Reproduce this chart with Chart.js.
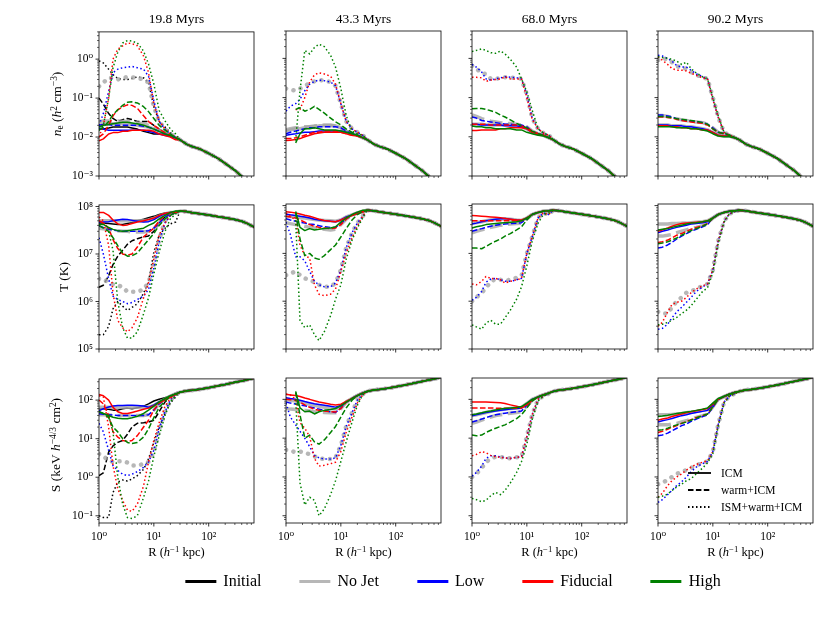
<!DOCTYPE html>
<html>
<head>
<meta charset="utf-8">
<script src="https://cdn.jsdelivr.net/npm/chart.js@4.4.1/dist/chart.umd.min.js"></script>
<style>
  html, body { margin: 0; padding: 0; background: #fff; }
  #fig { position: relative; width: 830px; height: 623px; overflow: hidden;
         font-family: 'Liberation Serif', 'DejaVu Serif', serif; color: #000; }
  #fig canvas { position: absolute; }
  .txt { position: absolute; white-space: nowrap; line-height: 1; }
  .ctr { transform: translate(-50%, -50%); }
  .rot { transform: translate(-50%, -50%) rotate(-90deg); }
  sup { font-size: 70%; line-height: 0; vertical-align: 0.45em; }
  sub { font-size: 70%; line-height: 0; vertical-align: -0.2em; }
  .legend { position: absolute; display: flex; align-items: center; transform: translate(-50%, -50%);
            font-size: 16px; white-space: nowrap; }
  .legend .item { display: flex; align-items: center; margin: 0 19px; }
  .legend .sw { width: 31px; height: 0; border-top: 3px solid; margin-right: 7px; }
  .inner { position: absolute; font-size: 11.5px; }
  .inner .row { display: flex; align-items: center; height: 17px; }
  .inner svg { margin-right: 10px; }
</style>
</head>
<body>
<div id="fig"></div>
<script>
// panel titles, runs and gas phases
const times = ['19.8 Myrs', '43.3 Myrs', '68.0 Myrs', '90.2 Myrs'];
const runs = ['Initial', 'No Jet', 'Low', 'Fiducial', 'High'];
const runKeys = ['black', 'gray', 'blue', 'red', 'green'];
const phases = ['ICM', 'warm+ICM', 'ISM+warm+ICM'];

// radii (h^-1 kpc): inner part read per line, outer part shared by all lines
const rIn = [1, 1.2, 1.5, 1.8, 2.2, 2.7, 3.3, 4, 5, 6.5, 8, 10, 12.5, 16, 20, 25];
const rOut = [30, 40, 50, 70, 100, 150, 200, 300, 400, 500, 700];
const neOut = [0.0085, 0.0065, 0.0057, 0.0049, 0.0038, 0.0028, 0.0021, 0.0014, 0.00098, 0.0007, 0.0004];
const tOut = [8e7, 7.8e7, 7.4e7, 7e7, 6.6e7, 6.1e7, 5.8e7, 5.3e7, 4.9e7, 4.4e7, 3.6e7];
const sOut = [160, 175, 180, 192, 210, 235, 255, 290, 315, 335, 380];

// each run: [ICM, warm+ICM, ISM+warm+ICM]
// ---- n_e
const ne1_black = [
  [0.016, 0.016, 0.017, 0.018, 0.018, 0.018, 0.018, 0.017, 0.016, 0.014, 0.013, 0.012, 0.012, 0.012, 0.011, 0.0095],
  [0.1, 0.07, 0.04, 0.03, 0.025, 0.028, 0.03, 0.028, 0.025, 0.025, 0.025, 0.02, 0.016, 0.013, 0.011, 0.0095],
  [0.9, 0.8, 0.55, 0.4, 0.32, 0.3, 0.3, 0.32, 0.35, 0.33, 0.25, 0.06, 0.025, 0.018, 0.013, 0.01]];
const ne1_gray = [
  [0.02, 0.021, 0.022, 0.022, 0.022, 0.022, 0.022, 0.021, 0.02, 0.019, 0.018, 0.016, 0.014, 0.012, 0.011, 0.0095],
  [0.025, 0.026, 0.026, 0.026, 0.026, 0.025, 0.025, 0.024, 0.023, 0.022, 0.02, 0.017, 0.015, 0.013, 0.011, 0.0095],
  [0.2, 0.25, 0.33, 0.33, 0.3, 0.32, 0.35, 0.34, 0.33, 0.3, 0.25, 0.06, 0.025, 0.016, 0.012, 0.01]];
const ne1_blue = [
  [0.017, 0.016, 0.015, 0.015, 0.015, 0.015, 0.015, 0.015, 0.015, 0.015, 0.014, 0.013, 0.012, 0.011, 0.0105, 0.0095],
  [0.02, 0.021, 0.021, 0.02, 0.02, 0.02, 0.02, 0.02, 0.02, 0.019, 0.018, 0.016, 0.014, 0.012, 0.0105, 0.0095],
  [0.02, 0.04, 0.15, 0.45, 0.55, 0.6, 0.62, 0.65, 0.6, 0.55, 0.36, 0.085, 0.025, 0.016, 0.012, 0.01]];
const ne1_red = [
  [0.008, 0.009, 0.012, 0.013, 0.013, 0.014, 0.014, 0.015, 0.015, 0.015, 0.015, 0.014, 0.012, 0.011, 0.01, 0.0085],
  [0.01, 0.012, 0.02, 0.035, 0.05, 0.06, 0.067, 0.065, 0.055, 0.035, 0.025, 0.02, 0.016, 0.013, 0.011, 0.0095],
  [0.01, 0.02, 0.1, 1.0, 1.8, 2.2, 2.6, 2.5, 2.2, 1.2, 0.45, 0.07, 0.026, 0.016, 0.012, 0.01]];
const ne1_green = [
  [0.018, 0.02, 0.021, 0.022, 0.023, 0.024, 0.024, 0.023, 0.022, 0.02, 0.018, 0.016, 0.014, 0.012, 0.011, 0.0095],
  [0.015, 0.018, 0.025, 0.038, 0.05, 0.065, 0.078, 0.08, 0.075, 0.06, 0.045, 0.03, 0.02, 0.015, 0.012, 0.0095],
  [0.015, 0.02, 0.1, 0.6, 1.5, 2.6, 3.0, 2.9, 2.6, 1.6, 0.75, 0.23, 0.048, 0.026, 0.016, 0.012]];

const ne2_gray = [
  [0.014, 0.015, 0.016, 0.016, 0.017, 0.018, 0.018, 0.019, 0.019, 0.019, 0.019, 0.017, 0.014, 0.012, 0.011, 0.0095],
  [0.015, 0.016, 0.017, 0.017, 0.018, 0.018, 0.019, 0.019, 0.02, 0.02, 0.019, 0.017, 0.014, 0.012, 0.011, 0.0095],
  [0.17, 0.16, 0.15, 0.17, 0.2, 0.23, 0.26, 0.28, 0.27, 0.25, 0.2, 0.07, 0.025, 0.016, 0.013, 0.011]];
const ne2_blue = [
  [0.011, 0.0115, 0.012, 0.0125, 0.013, 0.013, 0.0135, 0.014, 0.014, 0.014, 0.014, 0.014, 0.013, 0.012, 0.011, 0.0095],
  [0.012, 0.013, 0.014, 0.015, 0.016, 0.017, 0.017, 0.018, 0.018, 0.018, 0.018, 0.017, 0.014, 0.012, 0.011, 0.0095],
  [0.045, 0.06, 0.07, 0.09, 0.15, 0.22, 0.26, 0.28, 0.27, 0.25, 0.2, 0.07, 0.025, 0.016, 0.013, 0.011]];
const ne2_red = [
  [0.008, 0.0082, 0.0085, 0.009, 0.01, 0.011, 0.012, 0.0125, 0.013, 0.013, 0.013, 0.013, 0.012, 0.011, 0.0105, 0.0095],
  [0.009, 0.009, 0.0095, 0.01, 0.011, 0.012, 0.013, 0.013, 0.014, 0.014, 0.014, 0.013, 0.012, 0.011, 0.0105, 0.0095],
  [null, null, 0.05, 0.05, 0.1, 0.25, 0.38, 0.43, 0.4, 0.35, 0.22, 0.07, 0.025, 0.016, 0.013, 0.011]];
const ne2_green = [
  [null, null, 0.007, 0.012, 0.016, 0.016, 0.017, 0.016, 0.015, 0.015, 0.015, 0.014, 0.013, 0.012, 0.011, 0.0095],
  [null, null, 0.05, 0.055, 0.045, 0.05, 0.06, 0.05, 0.04, 0.03, 0.024, 0.02, 0.016, 0.013, 0.011, 0.0095],
  [null, null, 0.008, 0.15, 1.6, 1.3, 1.9, 2.3, 2.0, 1.2, 0.6, 0.17, 0.035, 0.014, 0.012, 0.011]];

const ne3_gray = [
  [0.021, 0.021, 0.021, 0.02, 0.02, 0.02, 0.02, 0.02, 0.02, 0.019, 0.018, 0.016, 0.013, 0.012, 0.011, 0.0095],
  [0.036, 0.033, 0.029, 0.027, 0.025, 0.024, 0.023, 0.022, 0.022, 0.021, 0.02, 0.018, 0.014, 0.012, 0.011, 0.0095],
  [0.65, 0.55, 0.42, 0.4, 0.3, 0.3, 0.32, 0.33, 0.32, 0.32, 0.3, 0.12, 0.03, 0.016, 0.0125, 0.011]];
const ne3_blue = [
  [0.021, 0.021, 0.02, 0.02, 0.02, 0.02, 0.02, 0.019, 0.019, 0.019, 0.018, 0.016, 0.013, 0.012, 0.011, 0.0095],
  [0.032, 0.03, 0.026, 0.025, 0.024, 0.023, 0.022, 0.021, 0.021, 0.02, 0.02, 0.018, 0.014, 0.012, 0.011, 0.0095],
  [0.7, 0.6, 0.45, 0.3, 0.28, 0.3, 0.32, 0.34, 0.33, 0.32, 0.3, 0.12, 0.03, 0.016, 0.0125, 0.011]];
const ne3_red = [
  [0.0145, 0.0145, 0.015, 0.015, 0.015, 0.015, 0.016, 0.016, 0.017, 0.017, 0.017, 0.016, 0.013, 0.012, 0.011, 0.0095],
  [0.021, 0.021, 0.021, 0.021, 0.02, 0.02, 0.02, 0.02, 0.02, 0.02, 0.019, 0.017, 0.014, 0.012, 0.011, 0.0095],
  [0.33, 0.33, 0.32, 0.26, 0.28, 0.29, 0.3, 0.34, 0.3, 0.3, 0.3, 0.1, 0.028, 0.016, 0.0125, 0.011]];
const ne3_green = [
  [0.019, 0.018, 0.018, 0.017, 0.017, 0.016, 0.016, 0.016, 0.016, 0.015, 0.015, 0.013, 0.012, 0.011, 0.0105, 0.0095],
  [0.052, 0.053, 0.053, 0.05, 0.046, 0.042, 0.036, 0.032, 0.027, 0.022, 0.019, 0.017, 0.014, 0.012, 0.011, 0.0095],
  [1.5, 1.6, 1.75, 1.6, 1.4, 1.35, 1.55, 1.3, 0.95, 0.6, 0.3, 0.14, 0.048, 0.016, 0.0125, 0.011]];

const ne4_gray = [
  [0.02, 0.02, 0.02, 0.019, 0.019, 0.019, 0.018, 0.018, 0.017, 0.016, 0.015, 0.013, 0.011, 0.0105, 0.0105, 0.0095],
  [0.035, 0.035, 0.033, 0.031, 0.029, 0.027, 0.026, 0.025, 0.024, 0.023, 0.021, 0.017, 0.013, 0.012, 0.011, 0.0095],
  [0.9, 1.0, 0.95, 0.8, 0.65, 0.55, 0.55, 0.45, 0.38, 0.33, 0.3, 0.1, 0.032, 0.013, 0.011, 0.0095]];
const ne4_blue = [
  [0.02, 0.02, 0.02, 0.019, 0.019, 0.019, 0.018, 0.018, 0.017, 0.016, 0.015, 0.013, 0.011, 0.0105, 0.0105, 0.0095],
  [0.036, 0.036, 0.034, 0.032, 0.029, 0.027, 0.026, 0.025, 0.024, 0.023, 0.021, 0.017, 0.013, 0.012, 0.011, 0.0095],
  [1.2, 1.15, 1.0, 0.85, 0.65, 0.6, 0.6, 0.5, 0.4, 0.34, 0.3, 0.09, 0.032, 0.013, 0.011, 0.0095]];
const ne4_red = [
  [0.019, 0.019, 0.019, 0.018, 0.018, 0.017, 0.017, 0.016, 0.016, 0.015, 0.015, 0.013, 0.011, 0.0105, 0.0105, 0.0095],
  [0.032, 0.032, 0.031, 0.03, 0.028, 0.026, 0.025, 0.024, 0.023, 0.022, 0.02, 0.016, 0.013, 0.012, 0.011, 0.0095],
  [1.1, 0.9, 0.7, 0.55, 0.5, 0.5, 0.48, 0.42, 0.37, 0.32, 0.3, 0.09, 0.032, 0.013, 0.011, 0.0095]];
const ne4_green = [
  [0.018, 0.018, 0.018, 0.018, 0.017, 0.017, 0.017, 0.016, 0.016, 0.015, 0.014, 0.012, 0.0105, 0.01, 0.01, 0.0095],
  [0.033, 0.033, 0.032, 0.031, 0.029, 0.028, 0.027, 0.026, 0.025, 0.023, 0.021, 0.016, 0.013, 0.012, 0.011, 0.0095],
  [1.1, 1.05, 1.0, 0.95, 0.85, 0.7, 0.8, 0.55, 0.42, 0.34, 0.3, 0.1, 0.035, 0.013, 0.011, 0.0095]];

// ---- T (K)
const t1_black = [
  [4.5e7, 4.5e7, 4.4e7, 4.3e7, 4.2e7, 4.2e7, 4.4e7, 4.6e7, 5e7, 5.4e7, 5.8e7, 6.2e7, 6.8e7, 7.3e7, 7.5e7, 7.5e7],
  [2e6, 2.2e6, 3.5e6, 6e6, 9e6, 1.2e7, 1.6e7, 1.9e7, 2.1e7, 2.3e7, 2.4e7, 3e7, 4.5e7, 6e7, 7e7, 7.5e7],
  [2e5, 2e5, 3e5, 7e5, 1e6, 8e5, 6.5e5, 7.5e5, 9e5, 1.5e6, 2.6e6, 1.1e7, 2.5e7, 3.5e7, 4.3e7, 4.7e7]];
const t1_gray = [
  [5e7, 5e7, 5e7, 5e7, 5e7, 5e7, 5e7, 5e7, 5e7, 5e7, 5.2e7, 5.6e7, 6.3e7, 7e7, 7.5e7, 7.5e7],
  [3.5e7, 3.4e7, 3.3e7, 3.2e7, 3.1e7, 3e7, 3e7, 2.9e7, 2.9e7, 2.9e7, 3e7, 3.4e7, 4.5e7, 6e7, 7e7, 7.5e7],
  [3e6, 3e6, 2.5e6, 2.3e6, 2.2e6, 2e6, 1.6e6, 1.6e6, 1.6e6, 1.8e6, 2.5e6, 6e6, 2e7, 5e7, 7e7, 7.5e7]];
const t1_blue = [
  [4.6e7, 4.7e7, 4.8e7, 5e7, 5.2e7, 5.4e7, 5.3e7, 5.1e7, 4.9e7, 4.7e7, 4.8e7, 5.3e7, 6.2e7, 7e7, 7.5e7, 7.5e7],
  [3.9e7, 3.6e7, 3.3e7, 3.2e7, 3.1e7, 3e7, 3e7, 3e7, 3e7, 3e7, 3.1e7, 3.5e7, 4.5e7, 6e7, 7e7, 7.5e7],
  [2.2e7, 1e7, 3e6, 1.3e6, 1.1e6, 1e6, 9e5, 9.5e5, 1.1e6, 1.3e6, 1.8e6, 5e6, 1.8e7, 4.5e7, 6.5e7, 7.5e7]];
const t1_red = [
  [7.5e7, 7.5e7, 6.5e7, 5.2e7, 4.3e7, 4e7, 4.1e7, 4.4e7, 4.7e7, 5e7, 5.3e7, 5.7e7, 6.5e7, 7.2e7, 7.5e7, 7.5e7],
  [5e7, 4.5e7, 3.5e7, 2e7, 1.3e7, 1e7, 9.5e6, 1e7, 1.4e7, 2.3e7, 2.8e7, 3.5e7, 5e7, 6.5e7, 7.3e7, 7.5e7],
  [6e7, 5e7, 1.5e7, 1.5e6, 4e5, 2.8e5, 2.3e5, 2.8e5, 4.5e5, 1.2e6, 2.5e6, 8e6, 2.5e7, 4.5e7, 6.5e7, 7.5e7]];
const t1_green = [
  [4.2e7, 4.2e7, 3.6e7, 3.3e7, 3.1e7, 3e7, 3.1e7, 3.2e7, 3.3e7, 3.5e7, 4e7, 4.5e7, 5.5e7, 6.5e7, 7.5e7, 8e7],
  [4e7, 3.5e7, 3e7, 2.2e7, 1.5e7, 1.05e7, 9e6, 9.2e6, 1.05e7, 1.5e7, 2e7, 2.7e7, 4e7, 5.5e7, 6.5e7, 7.5e7],
  [null, null, 3e7, 1.2e7, 1e6, 2.8e5, 1.7e5, 1.7e5, 2.3e5, 5.5e5, 1.2e6, 3.8e6, 1.1e7, 3e7, 5.5e7, 7e7]];

const t2_gray = [
  [6e7, 5.9e7, 5.8e7, 5.6e7, 5.5e7, 5.3e7, 5.1e7, 5e7, 4.9e7, 4.8e7, 4.7e7, 5e7, 5.8e7, 6.4e7, 7e7, 7.5e7],
  [4.4e7, 4.2e7, 4e7, 3.9e7, 3.7e7, 3.5e7, 3.4e7, 3.3e7, 3.2e7, 3.1e7, 3.2e7, 4e7, 5.2e7, 6.3e7, 7e7, 7.5e7],
  [3.5e6, 3.8e6, 4.2e6, 3.5e6, 3e6, 2.8e6, 2.5e6, 2.2e6, 2e6, 2e6, 2.4e6, 4.5e6, 1.3e7, 2.7e7, 4.3e7, 6e7]];
const t2_blue = [
  [6.6e7, 6.4e7, 6.2e7, 6e7, 5.8e7, 5.5e7, 5.2e7, 5e7, 4.8e7, 4.7e7, 4.6e7, 5e7, 5.8e7, 6.4e7, 7e7, 7.5e7],
  [5.3e7, 5e7, 4.7e7, 4.5e7, 4.3e7, 4.1e7, 4e7, 3.8e7, 3.6e7, 3.5e7, 3.5e7, 4.2e7, 5.3e7, 6.3e7, 7e7, 7.5e7],
  [4.5e7, 2.5e7, 8.5e6, 8.5e6, 7e6, 4.2e6, 2.6e6, 2.2e6, 2e6, 2e6, 2.4e6, 4.5e6, 1.3e7, 2.7e7, 4.3e7, 6e7]];
const t2_red = [
  [7.4e7, 7.3e7, 7e7, 6.7e7, 6.3e7, 6e7, 5.6e7, 5.2e7, 4.9e7, 4.7e7, 4.6e7, 5e7, 5.6e7, 6.2e7, 6.8e7, 7.3e7],
  [6e7, 5.8e7, 5.5e7, 5e7, 4.5e7, 4e7, 3.7e7, 3.5e7, 3.4e7, 3.3e7, 3.4e7, 4e7, 5.2e7, 6.3e7, 7e7, 7.5e7],
  [7e7, 6e7, 5e7, 1.5e7, 9e6, 8e6, 2.2e6, 1.4e6, 1.3e6, 1.4e6, 1.8e6, 4.2e6, 1e7, 2.1e7, 3.7e7, 6e7]];
const t2_green = [
  [null, null, 7.5e7, 3.5e7, 3e7, 3.3e7, 3.1e7, 3.2e7, 3.3e7, 3.4e7, 3.6e7, 4.5e7, 5.5e7, 6.5e7, 7.3e7, 8e7],
  [null, null, 7e7, 2e7, 9e6, 1e7, 8e6, 7.5e6, 9e6, 1.2e7, 1.5e7, 2.2e7, 3.3e7, 5e7, 6.5e7, 7.5e7],
  [null, null, 5e7, 4e5, 2.8e5, 3.2e5, 2e5, 1.5e5, 2.3e5, 5e5, 1.1e6, 2.2e6, 7.5e6, 1.9e7, 3.4e7, 5.5e7]];

const t3_gray = [
  [4.3e7, 4.4e7, 4.6e7, 4.8e7, 5e7, 5.1e7, 5.2e7, 5.3e7, 5.2e7, 5e7, 4.9e7, 5.5e7, 6.5e7, 7.2e7, 7.6e7, 7.8e7],
  [2.7e7, 2.9e7, 3.1e7, 3.3e7, 3.5e7, 3.7e7, 3.9e7, 4e7, 4.1e7, 4.2e7, 4.3e7, 5.3e7, 6.5e7, 7.2e7, 7.6e7, 7.8e7],
  [1e6, 1.2e6, 1.5e6, 1.9e6, 2.6e6, 2.9e6, 2.8e6, 2.7e6, 2.8e6, 3.1e6, 3.4e6, 1e7, 2.2e7, 5.5e7, 7e7, 6.5e7]];
const t3_blue = [
  [4.1e7, 4.3e7, 4.6e7, 4.8e7, 5e7, 5.2e7, 5.3e7, 5.4e7, 5.2e7, 5e7, 4.9e7, 5.5e7, 6.5e7, 7.2e7, 7.6e7, 7.8e7],
  [2.9e7, 3.1e7, 3.3e7, 3.5e7, 3.7e7, 3.9e7, 4e7, 4.1e7, 4.2e7, 4.3e7, 4.4e7, 5.3e7, 6.5e7, 7.2e7, 7.6e7, 7.8e7],
  [1.05e6, 1.2e6, 1.6e6, 2.5e6, 2.9e6, 3e6, 2.8e6, 2.6e6, 2.6e6, 2.8e6, 3e6, 1e7, 2.2e7, 5.5e7, 7e7, 6.5e7]];
const t3_red = [
  [6.2e7, 6.1e7, 6e7, 5.9e7, 5.8e7, 5.7e7, 5.6e7, 5.4e7, 5.2e7, 5e7, 5e7, 5.5e7, 6.5e7, 7.2e7, 7.6e7, 7.8e7],
  [4.8e7, 4.8e7, 4.8e7, 4.8e7, 4.8e7, 4.8e7, 4.8e7, 4.8e7, 4.8e7, 4.8e7, 4.8e7, 5.5e7, 6.5e7, 7.2e7, 7.6e7, 7.8e7],
  [2.3e6, 2.2e6, 2.6e6, 3.3e6, 3e6, 3e6, 2.8e6, 2.4e6, 2.6e6, 2.8e6, 3e6, 1e7, 2.2e7, 5.5e7, 7e7, 6.5e7]];
const t3_green = [
  [3.4e7, 3.6e7, 3.8e7, 4e7, 4.1e7, 4.2e7, 4.3e7, 4.4e7, 4.5e7, 4.6e7, 4.8e7, 5.5e7, 6.5e7, 7.2e7, 7.6e7, 7.8e7],
  [1.3e7, 1.3e7, 1.25e7, 1.4e7, 1.6e7, 1.8e7, 2e7, 2.3e7, 2.6e7, 3.1e7, 3.6e7, 5e7, 6.5e7, 7.2e7, 7.6e7, 7.8e7],
  [3.2e5, 2.9e5, 2.6e5, 3.5e5, 4e5, 3.3e5, 3.3e5, 4.5e5, 6.5e5, 1.1e6, 2e6, 5.5e6, 1.8e7, 4.3e7, 6.5e7, 7e7]];

const t4_gray = [
  [4.1e7, 4.1e7, 4.1e7, 4.2e7, 4.2e7, 4.3e7, 4.3e7, 4.4e7, 4.5e7, 4.6e7, 4.8e7, 5.5e7, 6.5e7, 7.2e7, 7.6e7, 7.8e7],
  [2.3e7, 2.3e7, 2.4e7, 2.5e7, 2.7e7, 2.9e7, 3.1e7, 3.3e7, 3.5e7, 3.8e7, 4.2e7, 5.5e7, 6.5e7, 7.2e7, 7.6e7, 7.8e7],
  [6e5, 5.5e5, 5.5e5, 7.5e5, 1e6, 1.2e6, 1.5e6, 1.6e6, 1.8e6, 2.1e6, 2.3e6, 4.5e6, 1.8e7, 4.7e7, 6.7e7, 7.5e7]];
const t4_blue = [
  [2.7e7, 2.9e7, 3.1e7, 3.3e7, 3.5e7, 3.7e7, 3.9e7, 4.1e7, 4.2e7, 4.4e7, 4.6e7, 5.5e7, 6.5e7, 7.2e7, 7.6e7, 7.8e7],
  [1.3e7, 1.35e7, 1.5e7, 1.7e7, 2e7, 2.3e7, 2.6e7, 2.9e7, 3.2e7, 3.6e7, 4e7, 5.5e7, 6.5e7, 7.2e7, 7.6e7, 7.8e7],
  [2.6e5, 2.7e5, 3.3e5, 4.5e5, 6e5, 7.5e5, 9.5e5, 1.2e6, 1.6e6, 2e6, 2.3e6, 4.5e6, 1.8e7, 4.7e7, 6.7e7, 7.5e7]];
const t4_red = [
  [2.9e7, 3.1e7, 3.4e7, 3.7e7, 4e7, 4.2e7, 4.3e7, 4.4e7, 4.5e7, 4.6e7, 4.8e7, 5.5e7, 6.5e7, 7.2e7, 7.6e7, 7.8e7],
  [1.7e7, 1.75e7, 1.9e7, 2.1e7, 2.4e7, 2.6e7, 2.9e7, 3.2e7, 3.5e7, 3.8e7, 4.2e7, 5.5e7, 6.5e7, 7.2e7, 7.6e7, 7.8e7],
  [3e5, 3.6e5, 6e5, 8.5e5, 9.5e5, 1e6, 1.2e6, 1.5e6, 1.8e6, 2.1e6, 2.3e6, 4.5e6, 1.8e7, 4.7e7, 6.7e7, 7.5e7]];
const t4_green = [
  [3.1e7, 3.2e7, 3.3e7, 3.5e7, 3.7e7, 3.9e7, 4.1e7, 4.3e7, 4.4e7, 4.6e7, 4.8e7, 5.5e7, 6.5e7, 7.2e7, 7.6e7, 7.8e7],
  [1.6e7, 1.65e7, 1.75e7, 1.9e7, 2.1e7, 2.4e7, 2.7e7, 3e7, 3.3e7, 3.7e7, 4.2e7, 5.5e7, 6.5e7, 7.2e7, 7.6e7, 7.8e7],
  [3.2e5, 3.3e5, 3.6e5, 4e5, 4.6e5, 5.5e5, 6.5e5, 8e5, 1.1e6, 1.6e6, 1.9e6, 4e6, 1.6e7, 4.5e7, 6.7e7, 7.5e7]];

// ---- S (keV h^-4/3 cm^2)
const s1_black = [
  [60, 60, 58, 55, 55, 60, 62, 60, 63, 70, 80, 95, 105, 115, 130, 150],
  [1.1, 1.3, 4.5, 6.5, 8, 9, 13, 20, 25, 26, 27, 30, 50, 90, 120, 145],
  [0.1, 0.09, 0.09, 0.4, 0.75, 0.85, 0.8, 0.9, 1.1, 1.6, 3, 8, 20, 45, 85, 120]];
const s1_gray = [
  [65, 65, 65, 65, 65, 65, 65, 65, 65, 65, 66, 72, 88, 105, 125, 145],
  [42, 42, 41, 40, 40, 40, 40, 40, 40, 40, 42, 55, 80, 105, 125, 145],
  [4, 3.5, 2.7, 2.5, 2.6, 2.6, 2.4, 2, 2, 2.2, 2.5, 4.5, 16, 50, 100, 140]];
const s1_blue = [
  [53, 60, 66, 70, 72, 72, 74, 74, 72, 70, 65, 75, 90, 105, 125, 145],
  [44, 43, 42, 41, 40, 40, 40, 40, 40, 40, 42, 55, 80, 105, 125, 145],
  [25, 15, 5, 2, 1.5, 1.2, 1.1, 1.2, 1.4, 1.8, 2.5, 5, 18, 50, 100, 140]];
const s1_red = [
  [140, 130, 100, 65, 50, 45, 45, 48, 52, 58, 62, 72, 85, 100, 120, 140],
  [100, 80, 40, 15, 11, 9, 8.5, 9, 12, 20, 30, 55, 85, 105, 125, 145],
  [130, 120, 20, 2, 0.5, 0.25, 0.14, 0.13, 0.2, 0.6, 2.5, 9, 26, 70, 110, 140]];
const s1_green = [
  [50, 45, 40, 36, 34, 33, 33, 35, 38, 45, 55, 70, 90, 110, 130, 145],
  [50, 45, 35, 20, 15, 10, 8, 7.5, 8, 11, 18, 35, 65, 95, 125, 145],
  [null, null, 40, 15, 1, 0.2, 0.09, 0.085, 0.1, 0.3, 0.8, 3.5, 12, 40, 90, 130]];

const s2_gray = [
  [100, 95, 90, 85, 80, 75, 70, 66, 62, 58, 56, 65, 85, 105, 125, 145],
  [58, 56, 55, 53, 52, 50, 48, 47, 46, 45, 45, 58, 85, 105, 125, 145],
  [5, 4.8, 4.3, 4.5, 4.3, 3.8, 3.4, 3, 2.9, 2.9, 3.1, 6.5, 20, 45, 95, 135]];
const s2_blue = [
  [110, 105, 100, 95, 88, 82, 77, 74, 70, 66, 63, 70, 85, 105, 125, 145],
  [85, 80, 76, 72, 68, 64, 60, 56, 52, 48, 46, 60, 85, 105, 125, 145],
  [80, 35, 22, 15, 10, 6, 3.6, 3.1, 2.9, 2.9, 3.1, 6.5, 20, 45, 95, 135]];
const s2_red = [
  [135, 130, 125, 118, 108, 100, 92, 85, 80, 75, 72, 75, 88, 105, 125, 145],
  [100, 98, 95, 85, 72, 62, 56, 52, 50, 48, 47, 58, 85, 105, 125, 145],
  [135, 130, 100, 25, 18, 11, 3, 1.9, 2, 2.2, 2.4, 4.5, 14, 35, 80, 130]];
const s2_green = [
  [null, null, 160, 60, 48, 50, 42, 48, 52, 55, 58, 68, 85, 105, 125, 145],
  [null, null, 150, 40, 10, 12, 8, 7, 9, 14, 20, 35, 60, 95, 125, 145],
  [null, null, 100, 0.7, 0.19, 0.3, 0.25, 0.1, 0.15, 0.35, 0.8, 2.5, 8, 26, 70, 130]];

const s3_gray = [
  [38, 40, 43, 46, 49, 52, 54, 56, 58, 60, 62, 78, 100, 115, 130, 145],
  [24, 26, 29, 32, 35, 38, 40, 42, 44, 46, 48, 68, 95, 115, 130, 145],
  [1, 1.2, 1.7, 2.4, 3, 3.3, 3.3, 3.1, 3, 3.2, 3.3, 11, 40, 100, 120, 140]];
const s3_blue = [
  [38, 40, 43, 46, 48, 50, 52, 54, 56, 58, 60, 78, 100, 115, 130, 145],
  [26, 28, 31, 34, 37, 40, 42, 44, 46, 48, 50, 70, 95, 115, 130, 145],
  [1.05, 1.3, 1.9, 3, 3.5, 3.5, 3.3, 3.1, 3, 3.2, 3.3, 11, 40, 100, 120, 140]];
const s3_red = [
  [85, 85, 85, 85, 84, 83, 82, 78, 72, 66, 62, 72, 95, 115, 130, 145],
  [60, 60, 60, 60, 60, 59, 59, 59, 59, 59, 60, 72, 95, 115, 130, 145],
  [3.5, 3.8, 4.5, 4.2, 3.6, 3.3, 3.2, 3.1, 3, 3.2, 3.3, 11, 40, 100, 120, 140]];
const s3_green = [
  [40, 42, 45, 48, 50, 53, 56, 58, 60, 62, 65, 80, 100, 115, 130, 145],
  [12, 11.5, 12, 14, 16, 18, 20, 22, 26, 32, 40, 60, 90, 115, 130, 145],
  [0.28, 0.26, 0.23, 0.25, 0.33, 0.4, 0.35, 0.45, 0.7, 1.3, 2.5, 7, 30, 90, 120, 140]];

const s4_gray = [
  [40, 40, 40, 41, 42, 43, 45, 47, 49, 52, 55, 75, 100, 118, 135, 150],
  [22, 22, 22, 23, 24, 26, 28, 31, 34, 38, 42, 65, 100, 118, 135, 150],
  [0.65, 0.7, 0.85, 1, 1.2, 1.35, 1.5, 1.7, 2, 2.3, 2.5, 4.5, 22, 85, 120, 140]];
const s4_blue = [
  [26, 28, 30, 32, 35, 38, 40, 43, 46, 49, 52, 72, 100, 118, 135, 150],
  [11.5, 12, 13.5, 15.5, 18, 21, 23, 27, 31, 36, 40, 62, 100, 118, 135, 150],
  [0.22, 0.26, 0.35, 0.45, 0.6, 0.75, 1, 1.35, 1.8, 2.2, 2.5, 4.5, 22, 85, 120, 140]];
const s4_red = [
  [29, 31, 33, 36, 39, 42, 45, 48, 51, 55, 58, 75, 100, 118, 135, 150],
  [14, 15, 17, 19, 21, 24, 27, 30, 34, 38, 42, 65, 100, 118, 135, 150],
  [0.3, 0.38, 0.6, 0.8, 1, 1.2, 1.5, 1.8, 2.1, 2.4, 2.6, 4.5, 22, 85, 120, 140]];
const s4_green = [
  [36, 37, 39, 41, 43, 45, 47, 49, 52, 56, 60, 80, 105, 120, 135, 150],
  [16, 16.5, 18, 20, 22, 24, 26, 29, 33, 38, 42, 65, 100, 118, 135, 150],
  [0.3, 0.32, 0.36, 0.45, 0.55, 0.65, 0.8, 0.9, 1.2, 1.7, 2.3, 4, 20, 80, 120, 140]];

// ---------------------------------------------------------------
const FONT = "'Liberation Serif', 'DejaVu Serif', serif";
const colors = { black: '#000000', gray: 'rgba(165,165,165,0.8)', blue: '#0000ff', red: '#ff0000', green: '#008000' };

const rows = [
  { min: 1e-3, max: 5, outer: neOut, panels: [
    { black: ne1_black, gray: ne1_gray, blue: ne1_blue, red: ne1_red, green: ne1_green },
    { gray: ne2_gray, blue: ne2_blue, red: ne2_red, green: ne2_green },
    { gray: ne3_gray, blue: ne3_blue, red: ne3_red, green: ne3_green },
    { gray: ne4_gray, blue: ne4_blue, red: ne4_red, green: ne4_green }] },
  { min: 1e5, max: 1.08e8, outer: tOut, panels: [
    { black: t1_black, gray: t1_gray, blue: t1_blue, red: t1_red, green: t1_green },
    { gray: t2_gray, blue: t2_blue, red: t2_red, green: t2_green },
    { gray: t3_gray, blue: t3_blue, red: t3_red, green: t3_green },
    { gray: t4_gray, blue: t4_blue, red: t4_red, green: t4_green }] },
  { min: 0.065, max: 355, outer: sOut, panels: [
    { black: s1_black, gray: s1_gray, blue: s1_blue, red: s1_red, green: s1_green },
    { gray: s2_gray, blue: s2_blue, red: s2_red, green: s2_green },
    { gray: s3_gray, blue: s3_blue, red: s3_red, green: s3_green },
    { gray: s4_gray, blue: s4_blue, red: s4_red, green: s4_green }] }
];

// figure geometry
const colLeft = [99, 286, 472, 658];
const rowTop = [31, 204, 378];
const PW = 155, PH = 145;
const ML = 46, MT = 12, MR = 12, MB = 30;

const fig = document.getElementById('fig');
const SUP = { '-': '\u207B', '0': '\u2070', '1': '\u00B9', '2': '\u00B2', '3': '\u00B3', '4': '\u2074',
              '5': '\u2075', '6': '\u2076', '7': '\u2077', '8': '\u2078', '9': '\u2079' };

function isPow10(v) { const e = Math.log10(v); return Math.abs(e - Math.round(e)) < 1e-6; }
function isNice(v) {
  const m = v / Math.pow(10, Math.floor(Math.log10(v) + 1e-9));
  return Math.abs(m - Math.round(m)) < 1e-6;
}
function powLabel(v) {
  if (!isPow10(v)) return '';
  return '10' + String(Math.round(Math.log10(v))).split('').map(ch => SUP[ch]).join('');
}

// box + matplotlib-like outward ticks drawn from the chart's own scales
const frame = {
  id: 'frame',
  afterDraw(chart) {
    const { ctx, chartArea: a, scales } = chart;
    ctx.save();
    ctx.strokeStyle = '#000';
    [true, false].forEach(major => {
      ctx.beginPath();
      ctx.lineWidth = major ? 0.8 : 0.6;
      const len = major ? 3.5 : 2;
      scales.x.ticks.forEach(t => {
        if (!isNice(t.value) || isPow10(t.value) !== major) return;
        const px = scales.x.getPixelForValue(t.value);
        ctx.moveTo(px, a.bottom); ctx.lineTo(px, a.bottom + len);
      });
      scales.y.ticks.forEach(t => {
        if (!isNice(t.value) || isPow10(t.value) !== major) return;
        const py = scales.y.getPixelForValue(t.value);
        ctx.moveTo(a.left, py); ctx.lineTo(a.left - len, py);
      });
      ctx.stroke();
    });
    ctx.lineWidth = 0.8;
    ctx.strokeRect(a.left, a.top, a.right - a.left, a.bottom - a.top);
    ctx.restore();
  }
};

function axis(showLabels, min, max, fit, pad) {
  return {
    type: 'logarithmic', min, max,
    afterFit: fit,
    border: { display: false },
    grid: { display: false, drawTicks: false },
    ticks: { display: showLabels, autoSkip: false, maxRotation: 0, minRotation: 0, padding: pad,
             color: '#000', font: { family: FONT, size: 11.5 }, callback: v => powLabel(v) }
  };
}

function makeDataset(key, k, vals, outer) {
  const gray = key === 'gray';
  let lw = gray ? 3.5 : 1.5;
  let dash = [];
  if (k === 1) dash = [3.7 * lw, 1.6 * lw];
  if (k === 2) {
    if (gray) { lw = 4.5; dash = [0.1, 7.5]; } else dash = [lw, 1.65 * lw];
  }
  const data = [];
  rIn.forEach((x, i) => { if (vals[i] !== null) data.push({ x, y: vals[i] }); });
  rOut.forEach((x, i) => data.push({ x, y: outer[i] }));
  return { data, borderColor: colors[key], borderWidth: lw, borderDash: dash, pointRadius: 0,
           fill: false, tension: 0, clip: 0, borderCapStyle: (gray && k === 2) ? 'round' : 'butt',
           borderJoinStyle: 'round' };
}

function buildPanel(r, c) {
  const row = rows[r];
  const sets = row.panels[c];
  const canvas = document.createElement('canvas');
  canvas.width = ML + PW + MR;
  canvas.height = MT + PH + MB;
  canvas.style.left = (colLeft[c] - ML) + 'px';
  canvas.style.top = (rowTop[r] - MT) + 'px';
  fig.appendChild(canvas);

  const datasets = [];
  runKeys.forEach(key => {
    if (!sets[key]) return;
    sets[key].forEach((vals, k) => datasets.push(makeDataset(key, k, vals, row.outer)));
  });
  datasets.reverse(); // first dataset is drawn on top

  new Chart(canvas, {
    type: 'line',
    data: { datasets },
    options: {
      responsive: false,
      animation: false,
      devicePixelRatio: 1,
      events: [],
      layout: { padding: { top: MT, right: MR, left: 0, bottom: 0 } },
      plugins: { legend: { display: false }, tooltip: { enabled: false } },
      scales: {
        x: axis(r === 2, 1, 670, s => { s.height = MB; }, 7),
        y: axis(c === 0, row.min, row.max, s => { s.width = ML; }, 6)
      }
    },
    plugins: [frame]
  });
}

for (let r = 0; r < 3; r++) for (let c = 0; c < 4; c++) buildPanel(r, c);

// text
function addText(html, x, y, size, cls) {
  const d = document.createElement('div');
  d.className = 'txt ' + (cls || 'ctr');
  d.style.left = x + 'px';
  d.style.top = y + 'px';
  d.style.fontSize = size + 'px';
  d.innerHTML = html;
  fig.appendChild(d);
}
times.forEach((t, c) => addText(t, colLeft[c] + PW / 2, 19, 13.5));
colLeft.forEach(x => addText('R (<i>h</i><sup>\u22121</sup> kpc)', x + PW / 2, 552, 12.5));
addText('<i>n</i><sub>e</sub> (<i>h</i><sup>2</sup> cm<sup>\u22123</sup>)', 57, rowTop[0] + PH / 2, 13.5, 'rot');
addText('T (K)', 64, rowTop[1] + PH / 2, 13.5, 'rot');
addText('S (keV <i>h</i><sup>\u22124/3</sup> cm<sup>2</sup>)', 56, rowTop[2] + PH / 2 - 6, 13.5, 'rot');

// figure legend (runs)
const leg = document.createElement('div');
leg.className = 'legend';
leg.style.left = '453px';
leg.style.top = '581px';
runs.forEach((name, i) => {
  const it = document.createElement('div');
  it.className = 'item';
  it.innerHTML = '<span class="sw" style="border-color:' + colors[runKeys[i]] + '"></span><span>' + name + '</span>';
  leg.appendChild(it);
});
fig.appendChild(leg);

// phase legend inside the last panel
const inner = document.createElement('div');
inner.className = 'inner';
inner.style.left = '688px';
inner.style.top = '464px';
const dashes = ['', '5.5,2.4', '1.5,2.5'];
phases.forEach((p, k) => {
  const rowEl = document.createElement('div');
  rowEl.className = 'row';
  rowEl.innerHTML = '<svg width="23" height="4"><line x1="0" y1="2" x2="23" y2="2" stroke="#000" stroke-width="1.8"' +
    (dashes[k] ? ' stroke-dasharray="' + dashes[k] + '"' : '') + '/></svg><span>' + p + '</span>';
  inner.appendChild(rowEl);
});
fig.appendChild(inner);
</script>
</body>
</html>
